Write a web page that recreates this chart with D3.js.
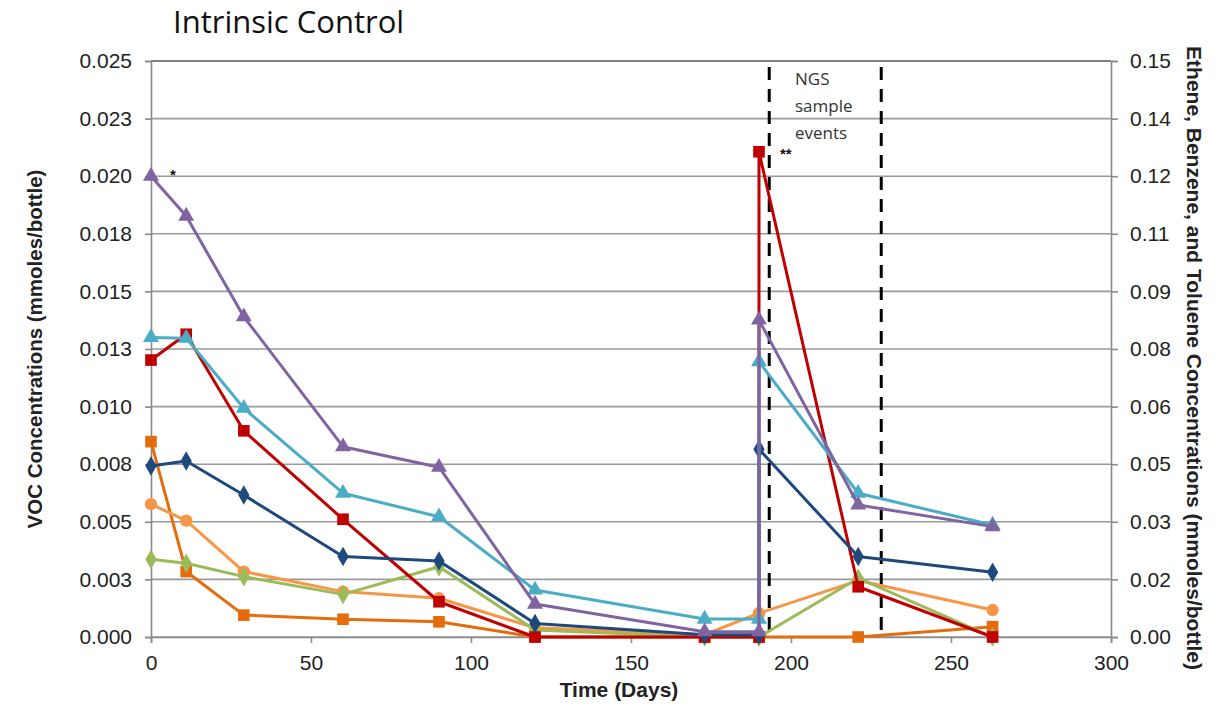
<!DOCTYPE html>
<html><head><meta charset="utf-8">
<script src="https://cdn.jsdelivr.net/npm/d3@7"></script>
<style>body{margin:0;background:#fff;} svg{display:block;}</style>
</head><body>
<svg id="c" width="1222" height="705"></svg>
<script>
const days = [0, 11, 29, 60, 90, 120, 173, 190, 190, 221, 263];
const leftTicks = [0, 0.0025, 0.005, 0.0075, 0.01, 0.0125, 0.015, 0.0175, 0.02, 0.0225, 0.025];
const leftTickLabels = ["0.000","0.003","0.005","0.008","0.010","0.013","0.015","0.018","0.020","0.023","0.025"];
const rightTicks = [0, 0.015, 0.03, 0.045, 0.06, 0.075, 0.09, 0.105, 0.12, 0.135, 0.15];
const rightTickLabels = ["0.00","0.02","0.03","0.05","0.06","0.08","0.09","0.11","0.12","0.14","0.15"];
const xTicks = [0, 50, 100, 150, 200, 250, 300];
const ngsDays = [193.2, 228.2];

const seriesNames = ["darkOrange","lightOrange","green","red","darkBlue","lightBlue","purple"];
const darkOrange  = [0.00848,0.00284,0.00095,0.00077,0.00066,0,0,0,0,0,0.00045];
const lightOrange = [0.00577,0.00505,0.00284,0.00197,0.00168,0.0004,0.0001,0.00103,0.00103,0.00245,0.00117];
const green       = [0.00337,0.0032,0.00262,0.00185,0.00305,0.0003,0,0,0,0.00255,0];
const red         = [0.01202,0.01314,0.00895,0.00511,0.00153,0,0,0,0.02106,0.00218,0];
const darkBlue    = [0.00742,0.00764,0.00616,0.00349,0.0033,0.00059,0.0001,0.0001,0.00815,0.00349,0.00281];
const lightBlue   = [0.01300,0.01297,0.00993,0.00624,0.00522,0.00204,0.00078,0.00078,0.01195,0.00624,0.00486];
const purple      = [0.0200,0.01827,0.0139,0.00826,0.00737,0.00143,0.00023,0.00023,0.01376,0.00573,0.00479];
const seriesValues = [darkOrange, lightOrange, green, red, darkBlue, lightBlue, purple];
const seriesColors = ["#E46C0A","#F79646","#9BBB59","#C00000","#1F497D","#4BACC6","#8064A2"];
const seriesMarkers = ["square","circle","diamond","square","diamond","triangle","triangle"];

const FONT = "'Liberation Sans', Arial, sans-serif";
const svg = d3.select("#c");
const m = {l:151, r:1111, t:61, b:637};
const x = d3.scaleLinear().domain([0,300]).range([m.l, m.r]);
const y = d3.scaleLinear().domain([0,0.025]).range([m.b, m.t]);
const y2 = d3.scaleLinear().domain([0,0.15]).range([m.b, m.t]);

// gridlines
svg.append("g").selectAll("line").data(leftTicks).join("line")
  .attr("x1", m.l).attr("x2", m.r)
  .attr("y1", d=>y(d)).attr("y2", d=>y(d))
  .attr("stroke", (d,i)=> i===leftTicks.length-1 ? "#555" : "#9a9a9a")
  .attr("stroke-width", 1.6);

// axes
const ax = svg.append("g").attr("transform",`translate(${m.l},0)`)
  .call(d3.axisLeft(y).tickValues(leftTicks).tickFormat((d,i)=>leftTickLabels[i]).tickSize(6).tickPadding(13));
const ax2 = svg.append("g").attr("transform",`translate(${m.r},0)`)
  .call(d3.axisRight(y2).tickValues(rightTicks).tickFormat((d,i)=>rightTickLabels[i]).tickSize(7).tickPadding(12));
const axb = svg.append("g").attr("transform",`translate(0,${m.b})`)
  .call(d3.axisBottom(x).tickValues(xTicks).tickFormat(d3.format("d")).tickSize(6).tickPadding(12));
[ax,ax2,axb].forEach(g=>{
  g.select(".domain").attr("stroke","#8a8a8a").attr("stroke-width",1.6);
  g.selectAll(".tick line").attr("stroke","#8a8a8a").attr("stroke-width",1.6);
  g.selectAll("text").style("font-family",FONT).style("font-size","21px").attr("fill","#222");
});

// NGS dashed lines
svg.append("g").selectAll("line").data(ngsDays).join("line")
  .attr("x1", d=>x(d)).attr("x2", d=>x(d)).attr("y1", m.t+6).attr("y2", m.b)
  .attr("stroke","#000").attr("stroke-width",3).attr("stroke-dasharray","13,9");

// series
const line = d3.line().x((d,i)=>x(days[i])).y(d=>y(d));
const symMap = {square:d3.symbolSquare, circle:d3.symbolCircle, diamond:d3.symbolDiamond, triangle:d3.symbolTriangle};
const symSize = {square:135, circle:120, diamond:110, triangle:110};
seriesValues.forEach((vals, si)=>{
  const g = svg.append("g").attr("class", seriesNames[si]);
  g.append("path").datum(vals).attr("d", line).attr("fill","none")
    .attr("stroke", seriesColors[si]).attr("stroke-width",3).attr("stroke-linejoin","round");
  const mk = seriesMarkers[si];
  g.selectAll("path.pt").data(vals).join("path").attr("class","pt")
    .attr("transform",(d,i)=>`translate(${x(days[i])},${y(d)})`)
    .attr("d", d3.symbol().type(symMap[mk]).size(symSize[mk]))
    .attr("fill", seriesColors[si]);
});

// annotations
const ann = svg.append("g").style("font-family","'Open Sans', sans-serif").attr("fill","#333").style("font-size","17px");
ann.append("text").attr("x",795).attr("y",85).text("NGS");
ann.append("text").attr("x",795).attr("y",112).text("sample");
ann.append("text").attr("x",795).attr("y",139).text("events");
svg.append("text").attr("x",170).attr("y",180).style("font-family",FONT).style("font-size","15px").attr("font-weight","bold").attr("fill","#111").text("*");
svg.append("text").attr("x",780).attr("y",159).style("font-family",FONT).style("font-size","15px").attr("font-weight","bold").attr("fill","#111").text("**");

// title
svg.append("text").attr("x",173).attr("y",33).style("font-family","'Open Sans', sans-serif").style("font-size","31px").attr("fill","#111").text("Intrinsic Control");

// axis titles
svg.append("text").attr("transform","translate(42,349) rotate(-90)").attr("text-anchor","middle")
  .style("font-family",FONT).style("font-size","20.5px").attr("font-weight","bold").attr("fill","#222")
  .text("VOC Concentrations (mmoles/bottle)");
svg.append("text").attr("x",619).attr("y",697).attr("text-anchor","middle")
  .style("font-family",FONT).style("font-size","21px").attr("font-weight","bold").attr("fill","#222")
  .text("Time (Days)");
svg.append("text").attr("transform","translate(1187,358) rotate(90)").attr("text-anchor","middle")
  .style("font-family",FONT).style("font-size","21px").attr("font-weight","bold").attr("fill","#222")
  .text("Ethene, Benzene, and Toluene Concentrations (mmoles/bottle)");
</script>
</body></html>
